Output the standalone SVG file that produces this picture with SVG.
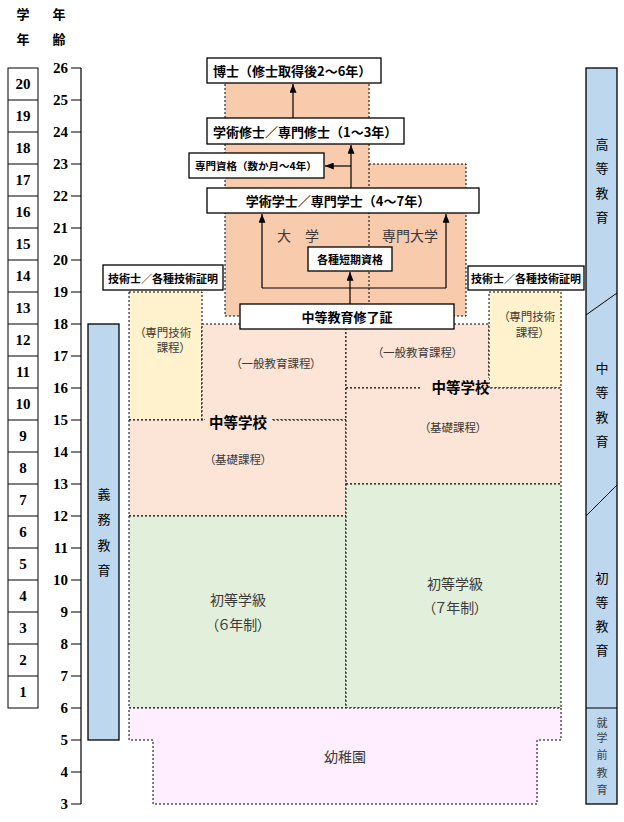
<svg xmlns="http://www.w3.org/2000/svg" width="624" height="822" viewBox="0 0 624 822">
<style>
.jp{font-family:"Noto Sans CJK JP","Noto Sans CJK SC",sans-serif;dominant-baseline:central}
.b{font-weight:bold;fill:#000}
.lbl{fill:#3a3a3a;font-feature-settings:"palt"}
.num{font-family:"Liberation Serif",serif;font-weight:bold;font-size:15px;fill:#000}
.box{fill:#fff;stroke:#000;stroke-width:1.3}
.dot{stroke:#000;stroke-width:1;stroke-dasharray:2,2}
.bar{fill:#BDD7EE;stroke:#000;stroke-width:1.3}
.ln{stroke:#000;stroke-width:1.2;fill:none}
.or{fill:#F8CBAD}
.pe{fill:#FCE4D6}
.ye{fill:#FFF2CC}
.gr{fill:#E2EFDA}
.pk{fill:#FFEEFF}
</style>
<defs>
<marker id="ah" viewBox="0 0 10 8" refX="10" refY="4" markerWidth="9" markerHeight="7" orient="auto" markerUnits="userSpaceOnUse"><path d="M0,0 L10,4 L0,8 z" fill="#000"/></marker>
</defs>
<rect width="624" height="822" fill="#fff"/>

<g id="headers" class="jp b" font-size="13" text-anchor="middle">
<text x="23" y="13">学</text><text x="23" y="38">年</text>
<text x="59" y="13">年</text><text x="59" y="38">齢</text>
</g>

<g id="grade-scale">
<g fill="none" stroke="#000" stroke-width="1">
<rect x="8" y="68" width="30" height="640"/>
<path d="M8,100H38M8,132H38M8,164H38M8,196H38M8,228H38M8,260H38M8,292H38M8,324H38M8,356H38M8,388H38M8,420H38M8,452H38M8,484H38M8,516H38M8,548H38M8,580H38M8,612H38M8,644H38M8,676H38"/>
</g>
<g class="num" text-anchor="middle">
<text x="23" y="89">20</text><text x="23" y="121">19</text><text x="23" y="153">18</text><text x="23" y="185">17</text>
<text x="23" y="217">16</text><text x="23" y="249">15</text><text x="23" y="281">14</text><text x="23" y="313">13</text>
<text x="23" y="345">12</text><text x="23" y="377">11</text><text x="23" y="409">10</text><text x="23" y="441">9</text>
<text x="23" y="473">8</text><text x="23" y="505">7</text><text x="23" y="537">6</text><text x="23" y="569">5</text>
<text x="23" y="601">4</text><text x="23" y="633">3</text><text x="23" y="665">2</text><text x="23" y="697">1</text>
</g>
</g>

<g id="age-scale">
<path d="M81,68V804M71,68H81M71,100H81M71,132H81M71,164H81M71,196H81M71,228H81M71,260H81M71,292H81M71,324H81M71,356H81M71,388H81M71,420H81M71,452H81M71,484H81M71,516H81M71,548H81M71,580H81M71,612H81M71,644H81M71,676H81M71,708H81M71,740H81M71,772H81M71,804H81" stroke="#000" stroke-width="1.2" fill="none"/>
<g class="num" text-anchor="end">
<text x="68" y="73">26</text><text x="68" y="105">25</text><text x="68" y="137">24</text><text x="68" y="169">23</text>
<text x="68" y="201">22</text><text x="68" y="233">21</text><text x="68" y="265">20</text><text x="68" y="297">19</text>
<text x="68" y="329">18</text><text x="68" y="361">17</text><text x="68" y="393">16</text><text x="68" y="425">15</text>
<text x="68" y="457">14</text><text x="68" y="489">13</text><text x="68" y="521">12</text><text x="68" y="553">11</text>
<text x="68" y="585">10</text><text x="68" y="617">9</text><text x="68" y="649">8</text><text x="68" y="681">7</text>
<text x="68" y="713">6</text><text x="68" y="745">5</text><text x="68" y="777">4</text><text x="68" y="809">3</text>
</g>
</g>

<g id="compulsory-bar">
<rect class="bar" x="88" y="324" width="31" height="416"/>
<g class="jp" font-size="13" fill="#000" text-anchor="middle">
<text x="104" y="493">義</text><text x="104" y="518.5">務</text><text x="104" y="544">教</text><text x="104" y="569.5">育</text>
</g>
</g>

<g id="stage-bar">
<rect class="bar" x="586" y="68" width="31" height="736"/>
<path d="M586,315L617,293M586,516L617,485M586,708H617" stroke="#000" stroke-width="1" fill="none"/>
<g class="jp" font-size="13" fill="#000" text-anchor="middle">
<text x="602" y="143">高</text><text x="602" y="167.5">等</text><text x="602" y="192">教</text><text x="602" y="216.5">育</text>
<text x="602" y="367">中</text><text x="602" y="391.5">等</text><text x="602" y="416">教</text><text x="602" y="440.5">育</text>
<text x="602" y="577">初</text><text x="602" y="601">等</text><text x="602" y="625">教</text><text x="602" y="649">育</text>
</g>
<g class="jp" font-size="11" fill="#404040" text-anchor="middle">
<text x="602" y="722">就</text><text x="602" y="737">学</text><text x="602" y="754">前</text><text x="602" y="772">教</text><text x="602" y="789">育</text>
</g>
</g>

<g id="higher-education">
<path class="or" d="M225,76H369V164H466V316H225Z"/>
<path class="dot" fill="none" d="M225,76V316H466V164H369V76M369,164V316"/>
<g class="jp lbl" font-size="14" text-anchor="middle">
<text x="298" y="235">大　学</text>
<text x="410" y="235">専門大学</text>
</g>
</g>

<g id="secondary-left-technical">
<rect x="129" y="292" width="73" height="128" class="ye dot"/>
<g class="jp lbl" font-size="11.5" text-anchor="middle">
<text x="165.5" y="332">（専門技術</text><text x="171" y="347">課程）</text>
</g>
</g>
<g id="secondary-left-general">
<rect x="202" y="324" width="144" height="96" class="pe dot"/>
<text class="jp lbl" font-size="11.5" x="276" y="363" text-anchor="middle">（一般教育課程）</text>
</g>
<g id="secondary-left-basic">
<rect x="129" y="420" width="217" height="96" class="pe dot"/>
<text class="jp lbl" font-size="11.5" x="238" y="459" text-anchor="middle">（基礎課程）</text>
</g>
<g id="secondary-right-general">
<rect x="346" y="324" width="143" height="64" class="pe dot"/>
<text class="jp lbl" font-size="11.5" x="417.5" y="352" text-anchor="middle">（一般教育課程）</text>
</g>
<g id="secondary-right-technical">
<rect x="489" y="292" width="72" height="96" class="ye dot"/>
<g class="jp lbl" font-size="11.5" text-anchor="middle">
<text x="529.5" y="316">（専門技術</text><text x="530" y="332">課程）</text>
</g>
</g>
<g id="secondary-right-basic">
<rect x="346" y="388" width="215" height="96" class="pe dot"/>
<text class="jp lbl" font-size="11.5" x="453" y="427" text-anchor="middle">（基礎課程）</text>
</g>
<g id="secondary-school-labels">
<rect x="205" y="411" width="66" height="18" class="pe"/>
<text class="jp b" font-size="14.5" x="238" y="421" text-anchor="middle">中等学校</text>
<rect x="421" y="378" width="68" height="18" class="pe"/>
<text class="jp b" font-size="14.5" x="460.5" y="386" text-anchor="middle">中等学校</text>
</g>

<g id="primary-6">
<rect x="129" y="516" width="217" height="192" class="gr dot"/>
<g class="jp lbl" font-size="14" text-anchor="middle">
<text x="238" y="599">初等学級</text><text x="238" y="624">（６年制）</text>
</g>
</g>
<g id="primary-7">
<rect x="346" y="484" width="215" height="224" class="gr dot"/>
<g class="jp lbl" font-size="14" text-anchor="middle">
<text x="455" y="583">初等学級</text><text x="455" y="607">（７年制）</text>
</g>
</g>

<g id="kindergarten">
<path d="M129,708H561V740H537V804H153V740H129Z" class="pk dot"/>
<text class="jp lbl" font-size="14" x="345" y="756" text-anchor="middle">幼稚園</text>
</g>

<g id="connectors" class="ln">
<path d="M293,118V84" marker-end="url(#ah)"/>
<path d="M351,188V145" marker-end="url(#ah)"/>
<path d="M351,166H325" marker-end="url(#ah)"/>
<path d="M350,304V272" marker-end="url(#ah)"/>
<path d="M262,288H446"/>
<path d="M262,288V214" marker-end="url(#ah)"/>
<path d="M446,288V214" marker-end="url(#ah)"/>
</g>

<g id="doctor">
<rect class="box" x="207" y="58" width="174" height="25"/>
<text class="jp b" font-size="13" x="213" y="70.5">博士（修士取得後2〜6年）</text>
</g>
<g id="master">
<rect class="box" x="207" y="118" width="197" height="26"/>
<text class="jp b" font-size="13" x="213" y="131">学術修士／専門修士（1〜3年）</text>
</g>
<g id="professional-qualification">
<rect class="box" x="189" y="153" width="135" height="25"/>
<text class="jp b" font-size="10.5" x="195" y="165.5">専門資格（数か月〜4年）</text>
</g>
<g id="bachelor">
<rect class="box" x="207" y="188" width="272" height="25"/>
<text class="jp b" font-size="13" x="338" y="200.5" text-anchor="middle">学術学士／専門学士（4〜7年）</text>
</g>
<g id="short-qualification">
<rect class="box" x="308" y="247" width="84" height="24"/>
<text class="jp b" font-size="11" x="350" y="259" text-anchor="middle">各種短期資格</text>
</g>
<g id="secondary-certificate">
<rect class="box" x="240" y="304" width="214" height="25"/>
<text class="jp b" font-size="13" x="347" y="316.5" text-anchor="middle">中等教育修了証</text>
</g>
<g id="technician-left">
<rect class="box" x="103" y="265" width="120" height="25"/>
<text class="jp b" font-size="11" x="163" y="277.5" text-anchor="middle">技術士／各種技術証明</text>
</g>
<g id="technician-right">
<rect class="box" x="468" y="266" width="116" height="24"/>
<text class="jp b" font-size="11" x="526" y="278" text-anchor="middle">技術士／各種技術証明</text>
</g>
</svg>
